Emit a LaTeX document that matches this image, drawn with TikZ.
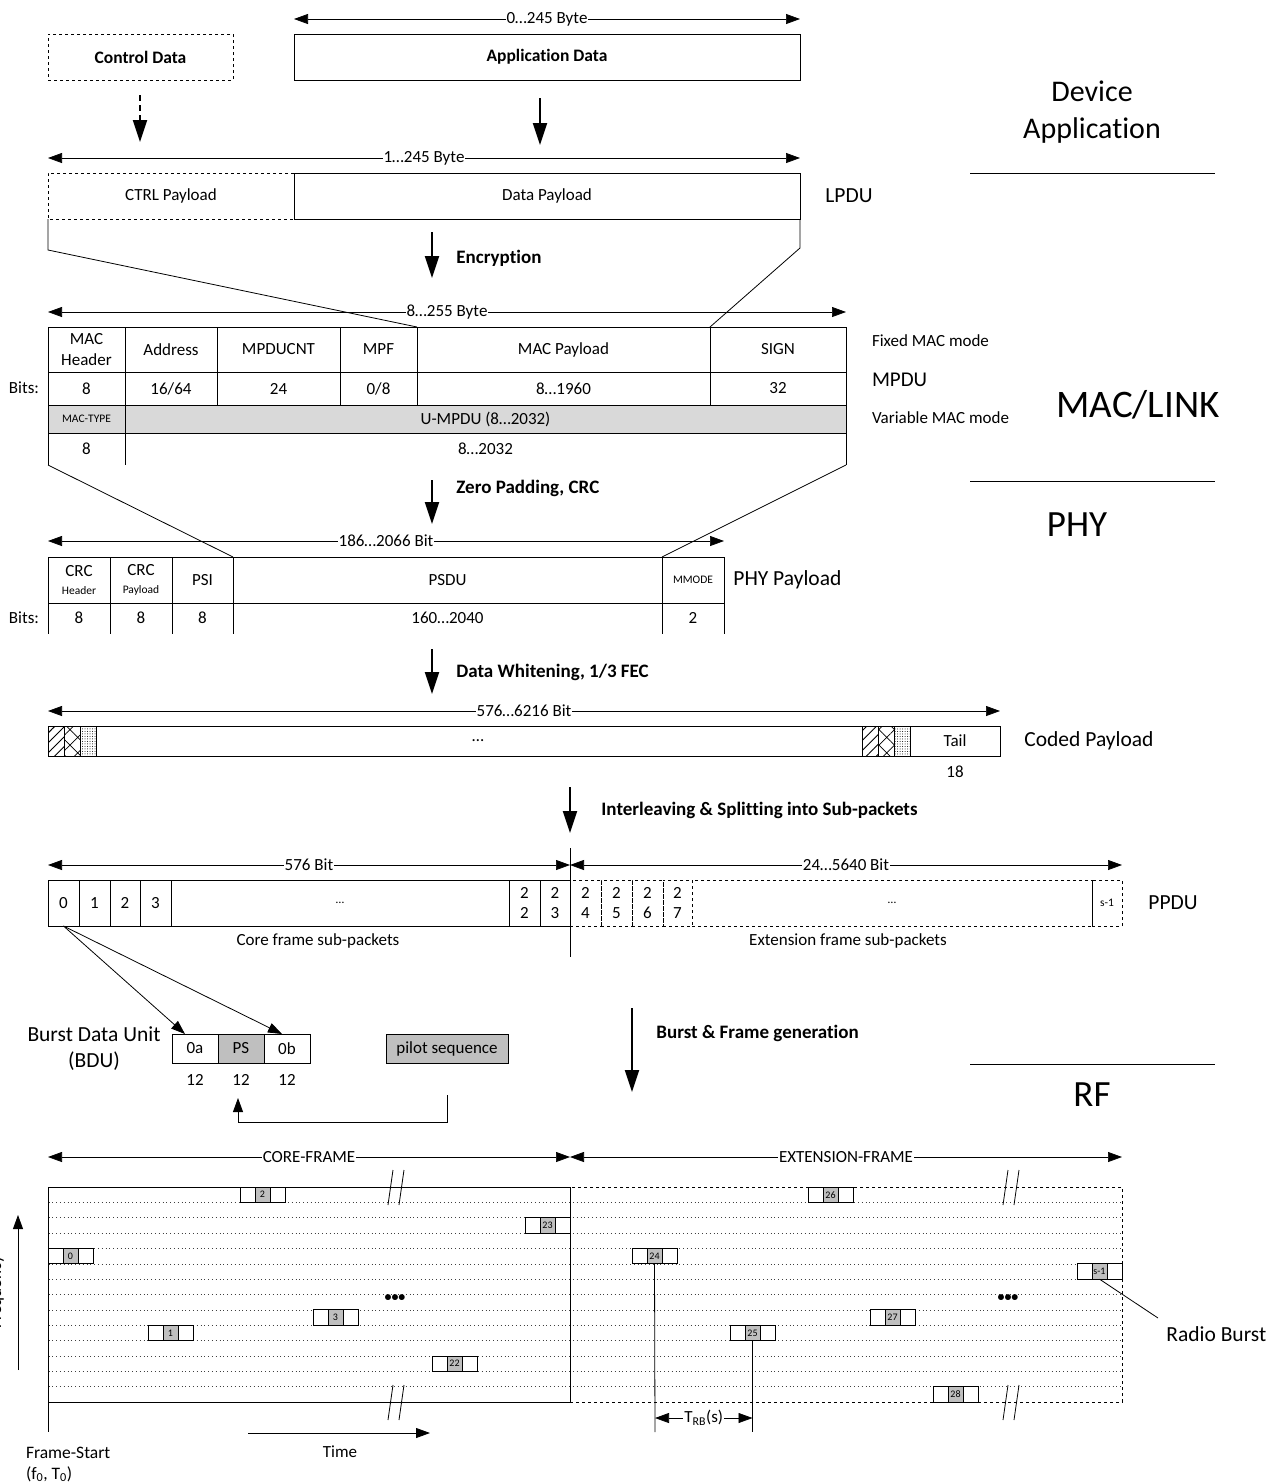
\documentclass[tikz,border=0pt]{standalone}
\usepackage{fontspec}
\setmainfont{Carlito}[Ligatures=NoCommon]
\usetikzlibrary{arrows.meta,patterns.meta}
\newcommand\fs[1]{\fontsize{#1}{\dimexpr#1pt*6/5\relax}\selectfont}
\newcommand\bx[7][]{\node[bxs,minimum width={(#5)-(#3)},minimum height={(#6)-(#4)},#1] (#2) at ({((#3)+(#5))/2},{((#4)+(#6))/2}) {#7};}
\newcommand\burst[4]{%
  \pgfmathsetmacro\bya{1187+(#3)*215/14}%
  \pgfmathsetmacro\byb{1187+(#3+1)*215/14}%
  \bx[fill=white]{#1l}{#2}{\bya}{#2+15}{\byb}{}%
  \bx[fill=mg,font=\fs{10}]{#1}{#2+15}{\bya}{#2+30}{\byb}{#4}%
  \bx[fill=white]{#1r}{#2+30}{\bya}{#2+45}{\byb}{}%
}
\definecolor{lg}{HTML}{D9D9D9}
\definecolor{mg}{HTML}{BFBFBF}
\begin{document}
\begin{tikzpicture}[x=1pt,y=-1pt,line width=0.8pt,
 bxs/.style={draw,rectangle,inner sep=0pt,outer sep=0pt,align=center,font=\fs{17}},
 tx/.style={inner sep=0pt,outer sep=0pt,align=center,font=\fs{17}},
 tipT/.style={-{Triangle[length=14pt,width=10pt]}},
 dimarr/.style={{Triangle[length=14pt,width=10pt]}-{Triangle[length=14pt,width=10pt]},line width=0.7pt},
 dimlbl/.style={fill=white,inner sep=1pt,font=\fs{17}},
 proc/.style={line width=2.2pt,-{Triangle[length=22pt,width=14pt]}},
 proclbl/.style={anchor=west,inner sep=0pt,font=\bfseries\fs{19}},
 big/.style={inner sep=0pt,font=\fs{39}},
 mid/.style={inner sep=0pt,font=\fs{21.5}},
 gridl/.style={line width=0.6pt,dash pattern=on 0.8pt off 3pt,black!75},
]
\useasboundingbox (0,0) rectangle (1266,1484);

% ---------- application ----------
\coordinate (d0l) at (294,19); \coordinate (d0r) at (800,19);
\draw[dimarr] (d0l) -- node[dimlbl]{0…245 Byte} (d0r);
\bx[dashed,font=\bfseries\fs{17.5}]{ctrl}{48}{34}{233}{80}{Control Data}
\bx[font=\bfseries\fs{17.5}]{app}{294}{34}{800}{80}{Application Data}
\coordinate (ca1) at (140,95); \coordinate (ca2) at (140,142);
\draw[proc,dash pattern=on 6pt off 4pt] (ca1) -- (ca2);
\coordinate (aa1) at (540,98); \coordinate (aa2) at (540,145);
\draw[proc] (aa1) -- (aa2);
\node[inner sep=0pt,align=center,font=\fontsize{30}{37}\selectfont] (devapp) at (1092,112) {Device\\Application};
\coordinate (s1a) at (970,173); \coordinate (s1b) at (1215,173);
\draw (s1a) -- (s1b);

% ---------- LPDU ----------
\coordinate (d1l) at (48,158); \coordinate (d1r) at (800,158);
\draw[dimarr] (d1l) -- node[dimlbl]{1…245 Byte} (d1r);
\bx[draw=none]{ctrlp}{48}{173}{294}{219}{CTRL Payload}
\draw[dashed] (ctrlp.north east) -- (ctrlp.north west) -- (ctrlp.south west) -- (ctrlp.south east);
\bx{datap}{294}{173}{800}{219}{Data Payload}
\node[mid,anchor=west] (lpdu) at (825,196) {LPDU};
\coordinate (e1) at (432,232); \coordinate (e2) at (432,278);
\draw[proc] (e1) -- (e2);
\node[proclbl] (enc) at (456,258) {Encryption};

% ---------- MPDU ----------
\coordinate (d2l) at (48,312); \coordinate (d2r) at (846,312);
\draw[dimarr] (d2l) -- node[dimlbl]{8…255 Byte} (d2r);
\bx{mh}{48}{327}{125}{372}{MAC\\Header}
\bx{addr}{125}{327}{217}{372}{Address}
\bx{mcnt}{217}{327}{340}{372}{MPDUCNT}
\bx{mpf}{340}{327}{417}{372}{MPF}
\bx{macp}{417}{327}{710}{372}{MAC Payload}
\bx{sign}{710}{327}{846}{372}{SIGN}
\bx{mb1}{48}{372}{125}{405}{8}
\bx{mb2}{125}{372}{217}{405}{16/64}
\bx{mb3}{217}{372}{340}{405}{24}
\bx{mb4}{340}{372}{417}{405}{0/8}
\bx{mb5}{417}{372}{710}{405}{8…1960}
\bx{mb6}{710}{372}{846}{405}{32}
\bx[fill=lg,font=\fs{11.5}]{mtype}{48}{405}{125}{433}{MAC-TYPE}
\bx[fill=lg]{umpdu}{125}{405}{846}{433}{U-MPDU (8…2032)}
\node[tx] (mt8) at (86.5,449) {8};
\node[tx] (u8) at (485.5,449) {8…2032};
\coordinate (ml) at (48,465); \coordinate (mm) at (125,465); \coordinate (mr) at (846,465);
\draw (mtype.south west) -- (ml);
\draw (mtype.south east) -- (mm);
\draw (umpdu.south east) -- (mr);
\node[tx] (bits1) at (24,388) {Bits:};
\node[tx,anchor=west,font=\fs{17}] (fixed) at (872,341) {Fixed MAC mode};
\node[tx,anchor=west,font=\fs{21}] (mpdu) at (872,380) {MPDU};
\node[tx,anchor=west,font=\fs{17}] (varm) at (872,418) {Variable MAC mode};
\node[big] (maclink) at (1138,405) {MAC/LINK};
\coordinate (tl1) at (48,250); \coordinate (tr1) at (800,248);
\draw (ctrlp.south west) -- (tl1) -- (macp.north west);
\draw (datap.south east) -- (tr1) -- (sign.north west);
\coordinate (s2a) at (970,481); \coordinate (s2b) at (1215,481);
\draw (s2a) -- (s2b);
\coordinate (z1) at (432,480); \coordinate (z2) at (432,524);
\draw[proc] (z1) -- (z2);
\node[proclbl] (zp) at (456,488) {Zero Padding, CRC};
\node[big,font=\fs{37}] (phy) at (1077,525) {PHY};

% ---------- PHY payload ----------
\coordinate (d3l) at (48,541); \coordinate (d3r) at (724,541);
\draw[dimarr] (d3l) -- node[dimlbl]{186…2066 Bit} (d3r);
\bx{crch}{48}{557}{110}{603}{CRC\\[-2pt]{\fs{11.5}Header}}
\bx{crcp}{110}{557}{172}{603}{CRC\\[-2pt]{\fs{11.5}Payload}}
\bx{psi}{172}{557}{233}{603}{PSI}
\bx{psdu}{233}{557}{662}{603}{PSDU}
\bx[font=\fs{11.5}]{mmode}{662}{557}{724}{603}{MMODE}
\foreach \n in {crch,crcp,psi,psdu,mmode}{\draw (\n.south west) -- ++(0,31);}
\draw (mmode.south east) -- ++(0,31);
\node[tx] (pb1) at (79,618) {8};
\node[tx] (pb2) at (141,618) {8};
\node[tx] (pb3) at (202.5,618) {8};
\node[tx] (pb4) at (447.5,618) {160…2040};
\node[tx] (pb5) at (693,618) {2};
\node[tx] (bits2) at (24,618) {Bits:};
\draw (ml) -- (psdu.north west);
\draw (mr) -- (mmode.north west);
\node[mid,anchor=west] (phyp) at (733,580) {PHY Payload};
\coordinate (w1) at (432,649); \coordinate (w2) at (432,694);
\draw[proc] (w1) -- (w2);
\node[proclbl] (wh) at (456,672) {Data Whitening, 1/3 FEC};

% ---------- coded payload ----------
\coordinate (d4l) at (48,711); \coordinate (d4r) at (1000,711);
\draw[dimarr] (d4l) -- node[dimlbl]{576…6216 Bit} (d4r);
\bx{coded}{48}{726}{1000}{756}{}
\node[tx] (cdots) at (478,741) {…};
\bx[pattern={Lines[angle=45,distance=7pt,line width=0.9pt]}]{h1}{48}{726}{64}{756}{}
\bx[pattern={Hatch[angle=45,distance=11pt,line width=0.7pt]}]{h2}{64}{726}{80}{756}{}
\bx[pattern={Dots[distance=2.5pt,radius=0.5pt]}]{h3}{80}{726}{96}{756}{}
\bx[pattern={Lines[angle=45,distance=7pt,line width=0.9pt]}]{h4}{862}{726}{878}{756}{}
\bx[pattern={Hatch[angle=45,distance=11pt,line width=0.7pt]}]{h5}{878}{726}{894}{756}{}
\bx[pattern={Dots[distance=2.5pt,radius=0.5pt]}]{h6}{894}{726}{910}{756}{}
\bx{tail}{910}{726}{1000}{756}{Tail}
\node[tx] (n18) at (955,772) {18};
\node[mid,anchor=west] (codedl) at (1024,741) {Coded Payload};
\coordinate (i1) at (570,787); \coordinate (i2) at (570,833);
\draw[proc] (i1) -- (i2);
\node[proclbl] (il) at (601,810) {Interleaving \& Splitting into Sub-packets};

% ---------- PPDU ----------
\coordinate (d5l) at (48,865); \coordinate (d5m) at (570,865); \coordinate (d5r) at (1122,865);
\draw[dimarr] (d5l) -- node[dimlbl]{576 Bit} (d5m);
\draw[dimarr] (d5m) -- node[dimlbl]{24…5640 Bit} (d5r);
\bx{p0}{48}{880}{79}{926}{0}
\bx{p1}{79}{880}{110}{926}{1}
\bx{p2}{110}{880}{140}{926}{2}
\bx{p3}{140}{880}{171}{926}{3}
\bx[font=\fs{12}]{pd}{171}{880}{509}{926}{…}
\bx{p22}{509}{880}{540}{926}{2\\2}
\bx{p23}{540}{880}{570}{926}{2\\3}
\bx[dashed]{p24}{570}{880}{601}{926}{2\\4}
\bx[dashed]{p25}{601}{880}{632}{926}{2\\5}
\bx[dashed]{p26}{632}{880}{663}{926}{2\\6}
\bx[dashed]{p27}{663}{880}{692}{926}{2\\7}
\bx[dashed,font=\fs{12}]{ped}{692}{880}{1092}{926}{…}
\bx[dashed,font=\fs{11.5}]{ps1}{1092}{880}{1122}{926}{s-1}
\draw (ps1.north west) -- (ps1.south west);
\coordinate (dv1) at (570,848); \coordinate (dv2) at (570,957);
\draw (dv1) -- (dv2);
\node[tx] (corel) at (318,941) {Core frame sub-packets};
\node[tx] (extl) at (848,941) {Extension frame sub-packets};
\node[mid,anchor=west] (ppdu) at (1148,903) {PPDU};

% ---------- BDU ----------
\bx{b0a}{172}{1034}{218}{1063}{0a}
\bx[fill=mg]{bps}{218}{1034}{264}{1063}{PS}
\bx{b0b}{264}{1034}{310}{1063}{0b}
\node[tx] (n12a) at (195,1080) {12};
\node[tx] (n12b) at (241,1080) {12};
\node[tx] (n12c) at (287,1080) {12};
\node[mid,align=center,font=\fontsize{21.5}{26}\selectfont] (bdu) at (94,1049) {Burst Data Unit\\(BDU)};
\bx[fill=mg]{pilot}{386}{1034}{508}{1063}{pilot sequence}
\draw[tipT] (p0.south) -- ([xshift=-10pt]b0a.north);
\draw[tipT] (p0.south) -- ([xshift=-5pt]b0b.north);
\coordinate (pl1) at (447,1095); \coordinate (pst) at (238,1098);
\draw[tipT] (pl1) |- (238,1122) -- (pst);
\coordinate (bf1) at (632,1008); \coordinate (bf2) at (632,1092);
\draw[proc] (bf1) -- (bf2);
\node[proclbl] (bfl) at (656,1033) {Burst \& Frame generation};
\coordinate (s3a) at (970,1064); \coordinate (s3b) at (1215,1064);
\draw (s3a) -- (s3b);
\node[big,font=\fs{37}] (rf) at (1092,1095) {RF};

% ---------- frames ----------
\coordinate (d6l) at (48,1157); \coordinate (d6m) at (570,1157); \coordinate (d6r) at (1122,1157);
\draw[dimarr] (d6l) -- node[dimlbl]{CORE-FRAME} (d6m);
\draw[dimarr] (d6m) -- node[dimlbl]{EXTENSION-FRAME} (d6r);
\bx[dashed]{ext}{570}{1187}{1122}{1402}{}
\bx{core}{48}{1187}{570}{1402}{}
\foreach \i in {1,...,13}{\draw[gridl] (48.5,{1187+\i*215/14}) -- (1121.5,{1187+\i*215/14});}
\burst{r2}{240}{0}{2}
\burst{r23}{525}{2}{23}
\burst{r0}{48}{4}{0}
\burst{r3}{313}{8}{3}
\burst{r1}{148}{9}{1}
\burst{r22}{432}{11}{22}
\burst{r26}{808}{0}{26}
\burst{r24}{632}{4}{24}
\burst{rs}{1077}{5}{s-1}
\burst{r27}{870}{8}{27}
\burst{r25}{730}{9}{25}
\burst{r28}{933}{13}{28}
% breaks
\foreach \bxx in {388,1003}{
  \draw (\bxx,1205) -- (\bxx+5,1170);
  \draw (\bxx+11,1205) -- (\bxx+16,1170);
  \draw (\bxx,1420) -- (\bxx+5,1385);
  \draw (\bxx+11,1420) -- (\bxx+16,1385);
}
\node[tx,font=\bfseries\fs{14}] (dd1) at (395,1298) {•••};
\node[tx,font=\bfseries\fs{14}] (dd2) at (1008,1298) {•••};
% T_RB
\coordinate (v1) at (655,1432); \coordinate (v2) at (752.5,1432);
\draw (r24.south) -- (v1);
\draw (r25.south) -- (v2);
\coordinate (t1) at (655,1418); \coordinate (t2) at (752.5,1418);
\draw[dimarr] (t1) -- node[dimlbl]{T\textsubscript{RB}(s)} (t2);
% radio burst
\coordinate (rb) at (1158,1318);
\draw (rs.south) -- (rb);
\node[mid,anchor=west] (rbl) at (1166,1334) {Radio Burst};
% axes
\coordinate (fs0) at (48,1432);
\draw (core.south west) -- (fs0);
\node[tx,anchor=west,font=\fs{17.5}] (fsl) at (26,1453) {Frame-Start};
\node[tx,anchor=west,font=\fs{17.5}] (fsl2) at (26,1474) {(f\textsubscript{0}, T\textsubscript{0})};
\coordinate (ta1) at (248,1433); \coordinate (ta2) at (430,1433);
\draw[tipT] (ta1) -- (ta2);
\node[tx] (timel) at (340,1452) {Time};
\coordinate (fa1) at (18,1370); \coordinate (fa2) at (18,1215);
\draw[tipT] (fa1) -- (fa2);
\node[tx,rotate=90,font=\fs{17}] (freq) at (-3,1292) {Frequency};
\end{tikzpicture}
\end{document}
